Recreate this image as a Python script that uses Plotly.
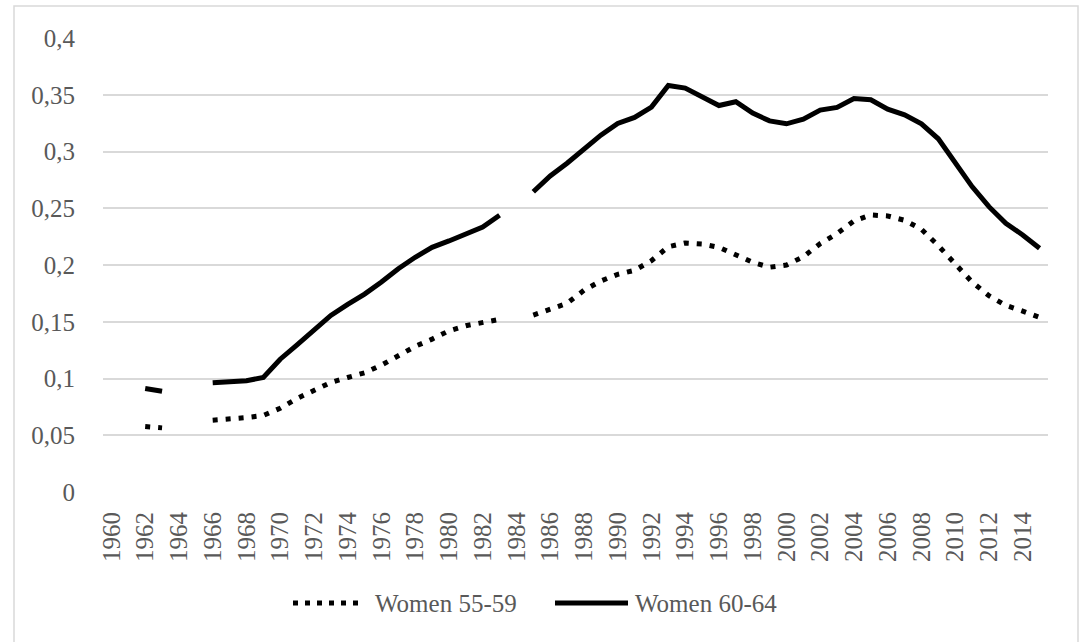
import plotly.graph_objects as go

years = list(range(1960, 2016))

women_55_59 = [
    None, None, 0.0577, 0.0565, None, None,
    0.0633, 0.0641, 0.0656, 0.0674, 0.0738, 0.0824, 0.0900, 0.0965, 0.1009, 0.1050,
    0.1118, 0.1203, 0.1283, 0.1347, 0.1420, 0.1465, 0.1497, 0.1521, None, 0.1559,
    0.1606, 0.1662, 0.1777, 0.1859, 0.1918, 0.1953, 0.2038, 0.2161, 0.2194, 0.2185,
    0.2156, 0.2088, 0.2024, 0.1980, 0.2000, 0.2073, 0.2188, 0.2276, 0.2388, 0.2441,
    0.2432, 0.2394, 0.2315, 0.2170, 0.2011, 0.1850, 0.1729, 0.1644, 0.1594, 0.1539,
]

women_60_64 = [
    None, None, 0.0912, 0.0888, None, None,
    0.0962, 0.0970, 0.0980, 0.1009, 0.1170, 0.1297, 0.1430, 0.1556, 0.1653, 0.1744,
    0.1850, 0.1967, 0.2068, 0.2156, 0.2212, 0.2268, 0.2335, 0.2438, None, 0.2645,
    0.2785, 0.2897, 0.3026, 0.3144, 0.3247, 0.3300, 0.3391, 0.3582, 0.3559, 0.3485,
    0.3405, 0.3438, 0.3338, 0.3270, 0.3244, 0.3285, 0.3365, 0.3388, 0.3467, 0.3456,
    0.3373, 0.3323, 0.3244, 0.3112, 0.2897, 0.2691, 0.2514, 0.2368, 0.2265, 0.2147,
]

y_tick_vals = [0, 0.05, 0.1, 0.15, 0.2, 0.25, 0.3, 0.35, 0.4]
y_tick_text = ["0", "0,05", "0,1", "0,15", "0,2", "0,25", "0,3", "0,35", "0,4"]
x_tick_vals = list(range(1960, 2016, 2))

series_names = ["Women 55-59", "Women 60-64"]

FONT = "Liberation Serif, Times New Roman, serif"
TEXT_COLOR = "#595959"
GRID = "#d9d9d9"

fig = go.Figure()
fig.add_trace(go.Scatter(
    x=years, y=women_55_59, mode="lines", name=series_names[0],
    line=dict(color="black", width=5, dash="5px,8px"),
    connectgaps=False, showlegend=False, hoverinfo="skip",
))
fig.add_trace(go.Scatter(
    x=years, y=women_60_64, mode="lines", name=series_names[1],
    line=dict(color="black", width=5),
    connectgaps=False, showlegend=False, hoverinfo="skip",
))

def px(x):
    return (x - 103) / 945

def py(y):
    return (492 - y) / 454

# chart border (bottom edge lies below the visible canvas)
fig.add_shape(type="rect", xref="paper", yref="paper",
              x0=px(14), x1=px(1078), y0=py(660), y1=py(6),
              line=dict(color=GRID, width=1.5), fillcolor="rgba(0,0,0,0)", layer="below")

# custom legend
leg_y = py(603)
fig.add_shape(type="line", xref="paper", yref="paper",
              x0=px(293), x1=px(362), y0=leg_y, y1=leg_y,
              line=dict(color="black", width=5, dash="5px,7px"))
fig.add_annotation(xref="paper", yref="paper", x=px(373), y=leg_y,
                   text=series_names[0], showarrow=False, xanchor="left", yanchor="middle",
                   font=dict(family=FONT, size=25, color=TEXT_COLOR))
fig.add_shape(type="line", xref="paper", yref="paper",
              x0=px(555), x1=px(628), y0=leg_y, y1=leg_y,
              line=dict(color="black", width=5))
fig.add_annotation(xref="paper", yref="paper", x=px(633), y=leg_y,
                   text=series_names[1], showarrow=False, xanchor="left", yanchor="middle",
                   font=dict(family=FONT, size=25, color=TEXT_COLOR))

fig.update_layout(
    width=1083, height=642,
    margin=dict(l=103, r=35, t=38, b=150),
    paper_bgcolor="white", plot_bgcolor="white",
    font=dict(family=FONT, size=25, color=TEXT_COLOR),
    showlegend=False,
)
fig.update_xaxes(
    range=[1959.5, 2015.5], tickvals=x_tick_vals, ticktext=[str(v) for v in x_tick_vals],
    tickangle=-90, showgrid=False, zeroline=False, showline=False,
    ticks="outside", ticklen=9, tickcolor="rgba(0,0,0,0)",
    tickfont=dict(family=FONT, size=25, color=TEXT_COLOR),
)
fig.update_yaxes(
    range=[0, 0.4], tickvals=y_tick_vals, ticktext=y_tick_text,
    showgrid=True, gridcolor=GRID, gridwidth=1.5, zeroline=False, showline=False,
    ticks="outside", ticklen=22, tickcolor="rgba(0,0,0,0)",
    tickfont=dict(family=FONT, size=25, color=TEXT_COLOR),
)

fig.write_html("out.html", config={"displayModeBar": False},
               post_script="document.body.style.margin='0';")
